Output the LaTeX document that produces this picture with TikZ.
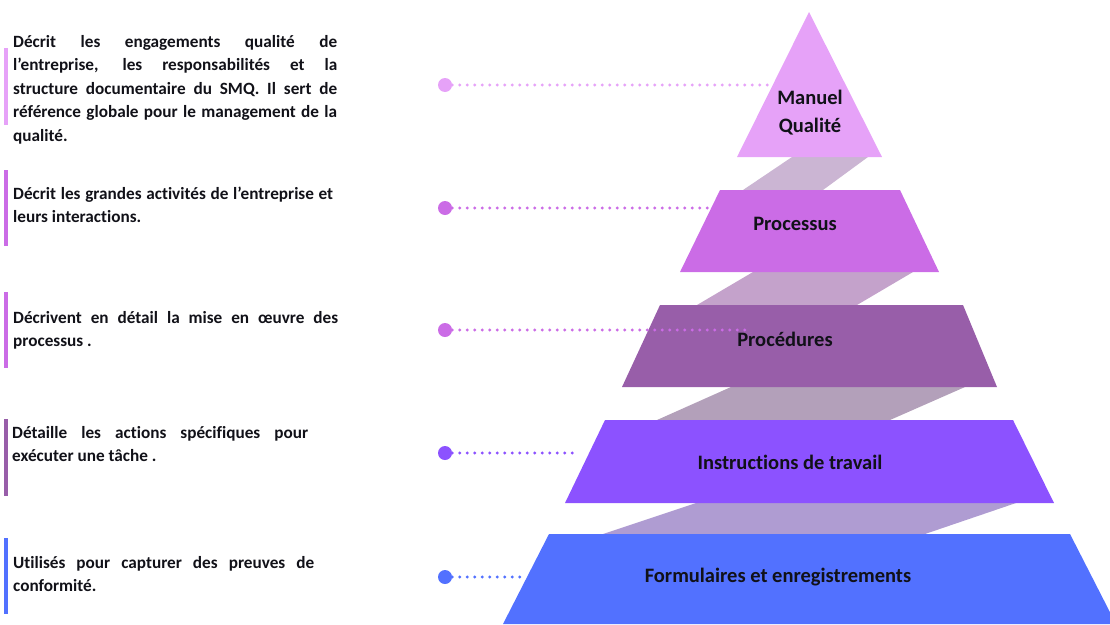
\documentclass[tikz,border=0pt]{standalone}
\usepackage{fontspec}
\setmainfont{Carlito}[Ligatures=NoCommon]
\usepackage{tikz}
\usetikzlibrary{positioning}
\hyphenpenalty=10000
\exhyphenpenalty=10000
\definecolor{lvl_a}{HTML}{E6A2F8}
\definecolor{lvl_b}{HTML}{CB6CE6}
\definecolor{lvl_c}{HTML}{985EA9}
\definecolor{lvl_d}{HTML}{8C52FF}
\definecolor{lvl_e}{HTML}{5271FF}
\definecolor{band_ab}{HTML}{CBB5D3}
\definecolor{band_bc}{HTML}{C4A2CB}
\definecolor{band_cd}{HTML}{B3A0BA}
\definecolor{band_de}{HTML}{AF9CD2}
\definecolor{txt_c}{HTML}{111118}
\tikzset{
  desc_box/.style = {anchor=base west, inner sep=0pt, align=justify,
    text=txt_c, font=\fontsize{17.2}{23.5}\selectfont\bfseries},
  lvl_lbl/.style = {align=center, inner sep=0pt, text=txt_c,
    font=\fontsize{20.5}{28}\selectfont\bfseries},
  knob/.style = {circle, inner sep=0pt, minimum size=14pt, fill=#1},
  dot_line/.style = {draw=#1, line width=3.2pt, line cap=round,
    dash pattern=on 0pt off 7.5pt}
}

\begin{document}
\begin{tikzpicture}[x=1pt,y=-1pt]
\useasboundingbox (0,0) rectangle (1110,624);

% bands between the levels
\fill[band_ab] (792,157) -- (868,157) -- (823,190) -- (743,190) -- cycle;
\fill[band_bc] (753,272) -- (913,272) -- (857,305) -- (697,305) -- cycle;
\fill[band_cd] (731,387) -- (965,387) -- (890,420) -- (657,420) -- cycle;
\fill[band_de] (696,503) -- (1016,503) -- (925,534) -- (603,534) -- cycle;

% levels
\fill[lvl_a] (809,12) -- (882,157) -- (737,157) -- cycle;
\fill[lvl_b] (720,190) -- (900,190) -- (939,272) -- (680,272) -- cycle;
\fill[lvl_c] (660,305) -- (963,305) -- (997,387) -- (622,387) -- cycle;
\fill[lvl_d] (605,420) -- (1013,420) -- (1054,503) -- (565,503) -- cycle;
\fill[lvl_e] (549,534) -- (1070,534) -- (1116,624) -- (503,624) -- cycle;

\node[lvl_lbl] (manuel) at (810,113) {Manuel\\Qualité};
\node[lvl_lbl] (proc) at (795,224) {Processus};
\node[lvl_lbl] (procd) at (785,339) {Procédures};
\node[lvl_lbl] (instr) at (790,462) {Instructions de travail};
\node[lvl_lbl] (form) at (778,577) {Formulaires et enregistrements};

% side bars
\fill[lvl_a] (4,48) rectangle (8,125);
\fill[lvl_b] (4,170) rectangle (8,246);
\fill[lvl_b] (4,292) rectangle (8,368);
\fill[lvl_c] (4,419) rectangle (8,496);
\fill[lvl_e] (4,538) rectangle (8,614);

\node[desc_box, text width=324pt] (d_manuel) at (13,47) {Décrit les engagements qualité de\linebreak l’entreprise, les responsabilités et la\linebreak structure documentaire du SMQ. Il sert de\linebreak référence globale pour le management de la\linebreak qualité.};
\node[desc_box, text width=320pt] (d_proc) at (13,199) {Décrit les grandes activités de l’entreprise et\linebreak leurs interactions.};
\node[desc_box, text width=325pt] (d_procd) at (13,323) {Décrivent en détail la mise en œuvre des\linebreak processus .};
\node[desc_box, text width=296pt] (d_instr) at (12,438) {Détaille les actions spécifiques pour\linebreak exécuter une tâche .};
\node[desc_box, text width=301pt] (d_form) at (13,568) {Utilisés pour capturer des preuves de\linebreak conformité.};

% dots and dotted leaders
\node[knob=lvl_a] (k1) at (445,85) {};
\node[knob=lvl_b] (k2) at (445,208) {};
\node[knob=lvl_b] (k3) at (445,330) {};
\node[knob=lvl_d] (k4) at (445,453) {};
\node[knob=lvl_e] (k5) at (445,577) {};
\coordinate (e1) at (772,85);
\coordinate (e2) at (710,208);
\coordinate (e3) at (749,330);
\coordinate (e4) at (576,453);
\coordinate (e5) at (522,577);
\draw[dot_line=lvl_a] (k1) -- (e1);
\draw[dot_line=lvl_b] (k2) -- (e2);
\draw[dot_line=lvl_b] (k3) -- (e3);
\draw[dot_line=lvl_d] (k4) -- (e4);
\draw[dot_line=lvl_e] (k5) -- (e5);
\end{tikzpicture}
\end{document}
